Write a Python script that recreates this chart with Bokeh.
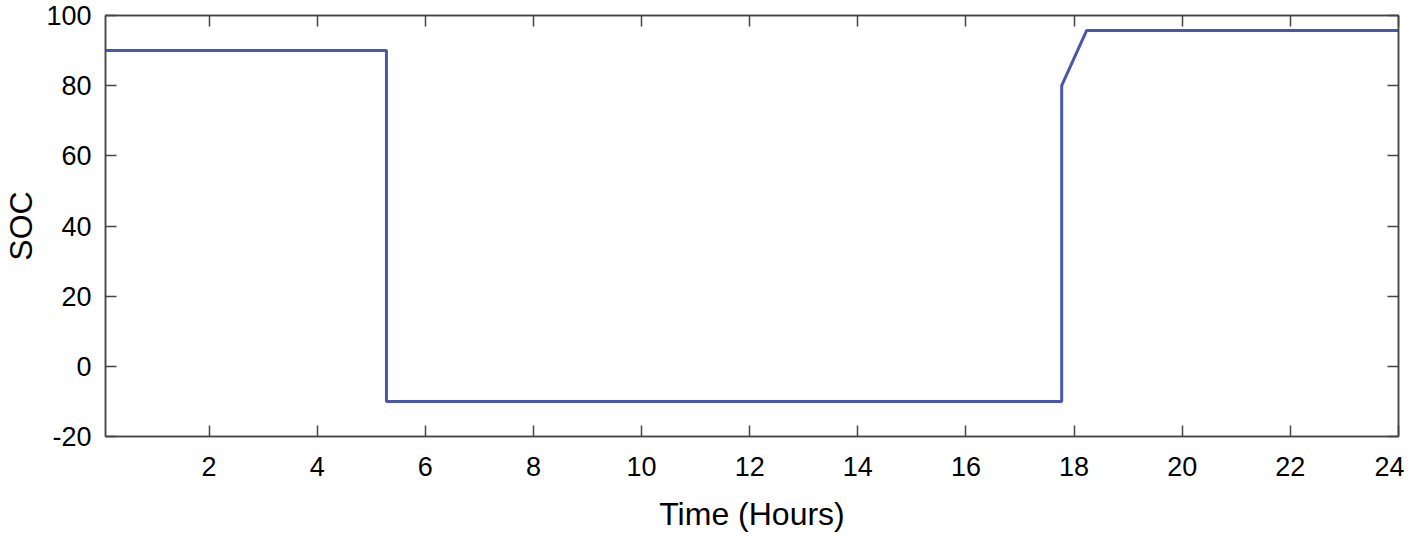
from bokeh.plotting import figure
from bokeh.models import Range1d, LinearAxis, FixedTicker
from bokeh.embed import file_html
from bokeh.resources import INLINE

# Data
time_hours = [1/12, 5.28, 5.28, 17.77, 17.77, 18.23, 24.0]
soc_values = [90.0, 90.0, -10.0, -10.0, 80.0, 95.7, 95.7]
x_ticks = [2, 4, 6, 8, 10, 12, 14, 16, 18, 20, 22, 24]
y_ticks = [-20, 0, 20, 40, 60, 80, 100]
y_tick_labels = {t: str(t) for t in y_ticks}

FONT = "Liberation Sans"
FS = "27px"
LFS = "32px"
AX = "#444444"

p = figure(width=1404, height=534, output_backend="svg", toolbar_location=None,
           x_range=Range1d(1/12, 24), y_range=Range1d(-20, 100),
           min_border_left=93, min_border_right=6, min_border_top=15, min_border_bottom=90)
p.grid.visible = False
p.outline_line_color = AX
p.outline_line_width = 1.5

p.line(time_hours, soc_values, line_color="#4857AB", line_width=3)

def style(ax, labels=True):
    ax.axis_line_color = AX
    ax.axis_line_width = 1.5
    ax.major_tick_line_color = AX
    ax.major_tick_line_width = 1.5
    ax.major_tick_in = 11
    ax.major_tick_out = 0
    ax.minor_tick_line_color = None
    ax.major_label_text_font = FONT
    if labels:
        ax.major_label_text_font_size = FS
        ax.major_label_text_color = "black"
    else:
        ax.major_label_text_font_size = "1px"
        ax.major_label_text_color = None
    ax.axis_label_text_font = FONT
    ax.axis_label_text_font_size = LFS
    ax.axis_label_text_font_style = "normal"
    ax.axis_label_text_color = "black"

xa = p.xaxis[0]
xa.ticker = FixedTicker(ticks=x_ticks)
xa.axis_label = "Time (Hours)"
style(xa)
xa.major_label_standoff = 20
xa.axis_label_standoff = 17

ya = p.yaxis[0]
ya.ticker = FixedTicker(ticks=y_ticks)
ya.major_label_overrides = y_tick_labels
ya.axis_label = "SOC"
style(ya)
ya.major_label_standoff = 14
ya.axis_label_standoff = 4

top = LinearAxis(ticker=FixedTicker(ticks=x_ticks))
style(top, labels=False)
top.major_label_standoff = 0
p.add_layout(top, "above")

right = LinearAxis(ticker=FixedTicker(ticks=y_ticks))
style(right, labels=False)
right.major_label_standoff = 0
p.add_layout(right, "right")

open("out.html", "w").write(file_html(p, INLINE))
